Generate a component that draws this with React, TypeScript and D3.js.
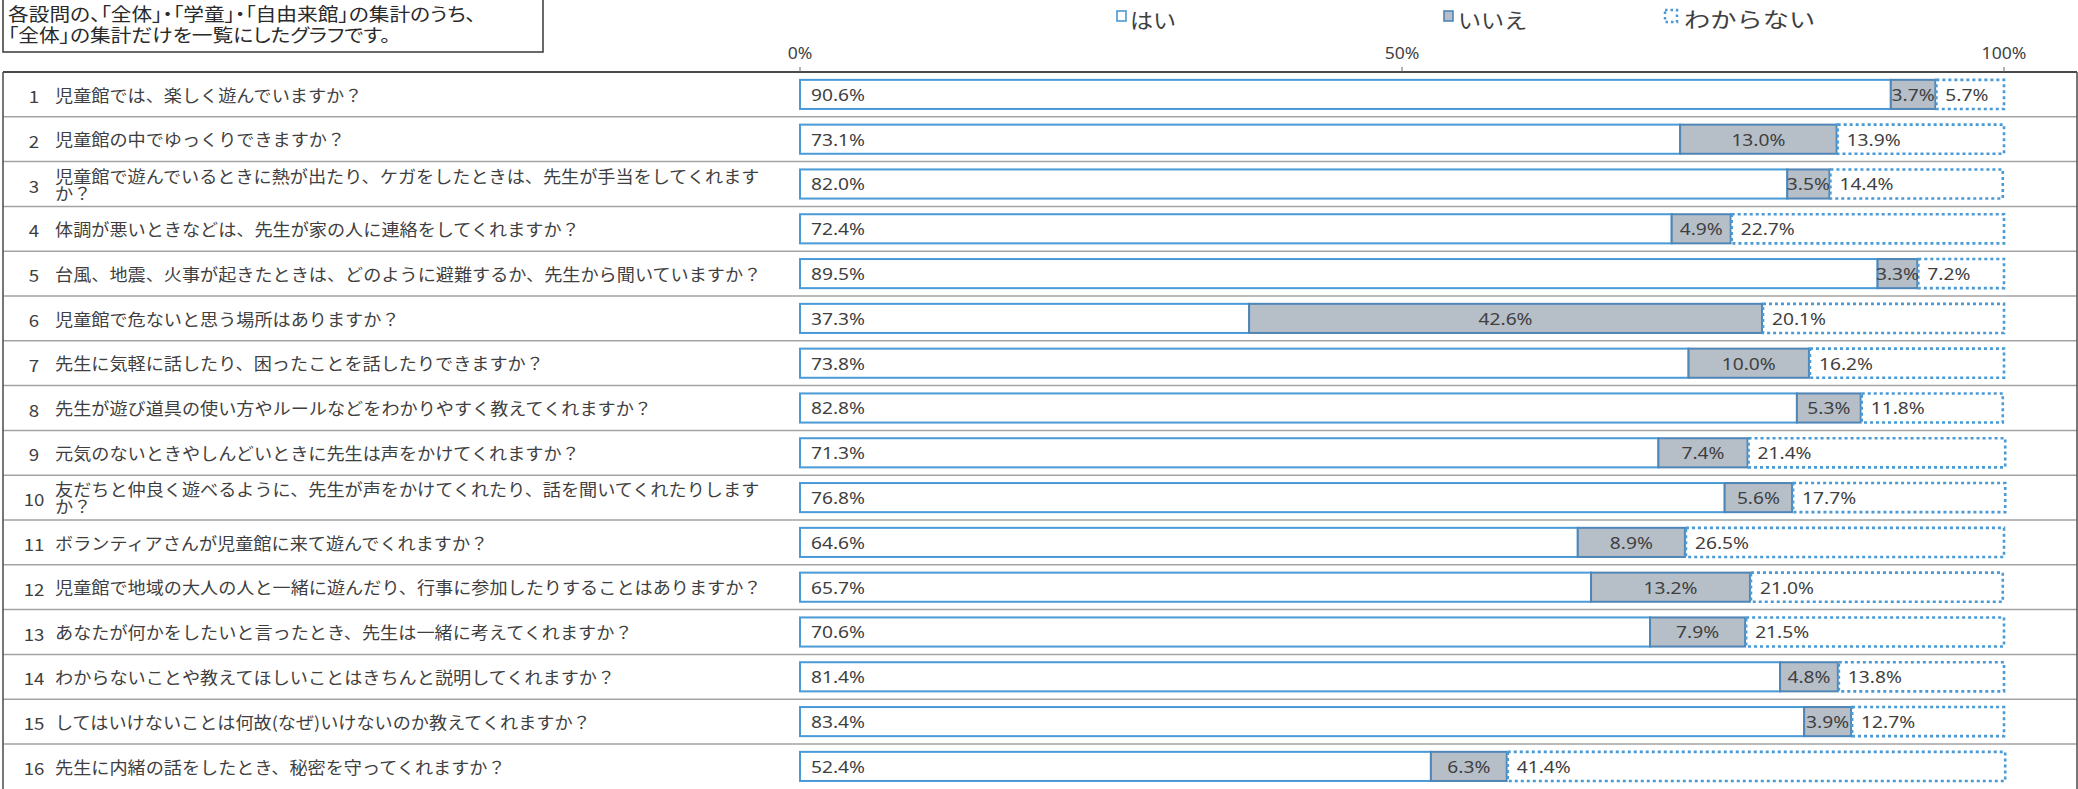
import React from 'react';
import * as d3 from 'd3';

// ---------- data ----------
const questions: string[] = [
  '児童館では、楽しく遊んでいますか？',
  '児童館の中でゆっくりできますか？',
  '児童館で遊んでいるときに熱が出たり、ケガをしたときは、先生が手当をしてくれますか？',
  '体調が悪いときなどは、先生が家の人に連絡をしてくれますか？',
  '台風、地震、火事が起きたときは、どのように避難するか、先生から聞いていますか？',
  '児童館で危ないと思う場所はありますか？',
  '先生に気軽に話したり、困ったことを話したりできますか？',
  '先生が遊び道具の使い方やルールなどをわかりやすく教えてくれますか？',
  '元気のないときやしんどいときに先生は声をかけてくれますか？',
  '友だちと仲良く遊べるように、先生が声をかけてくれたり、話を聞いてくれたりしますか？',
  'ボランティアさんが児童館に来て遊んでくれますか？',
  '児童館で地域の大人の人と一緒に遊んだり、行事に参加したりすることはありますか？',
  'あなたが何かをしたいと言ったとき、先生は一緒に考えてくれますか？',
  'わからないことや教えてほしいことはきちんと説明してくれますか？',
  'してはいけないことは何故(なぜ)いけないのか教えてくれますか？',
  '先生に内緒の話をしたとき、秘密を守ってくれますか？',
];
const yesValues: number[] = [90.6, 73.1, 82.0, 72.4, 89.5, 37.3, 73.8, 82.8, 71.3, 76.8, 64.6, 65.7, 70.6, 81.4, 83.4, 52.4];
const noValues: number[] = [3.7, 13.0, 3.5, 4.9, 3.3, 42.6, 10.0, 5.3, 7.4, 5.6, 8.9, 13.2, 7.9, 4.8, 3.9, 6.3];
const unknownValues: number[] = [5.7, 13.9, 14.4, 22.7, 7.2, 20.1, 16.2, 11.8, 21.4, 17.7, 26.5, 21.0, 21.5, 13.8, 12.7, 41.4];
const axisTicks: number[] = [0, 50, 100];
const legendLabels: string[] = ['はい', 'いいえ', 'わからない'];
const titleLines: string[] = [
  '各設問の、「全体」・「学童」・「自由来館」の集計のうち、',
  '「全体」の集計だけを一覧にしたグラフです。',
];

// ---------- layout ----------
const W = 2078;
const H = 789;
const JP = '"Noto Sans CJK JP", "Noto Sans", sans-serif';
const LAT = '"Noto Sans", "Liberation Sans", sans-serif';
const TEXT = '#3f3f3f';
const BLUE = '#4a9ad6';
const GRAY_FILL = '#b6bec8';
const GRAY_STROKE = '#4f86b6';
const TABLE_TOP = 72;
const ROW_H = 44.8;
const TABLE_LEFT = 3;
const TABLE_RIGHT = 2077;
const MAX_CHARS = 39;

const fmt = (v: number) => v.toFixed(1) + '%';

function wrap(s: string): string[] {
  const chars = Array.from(s);
  if (chars.length <= MAX_CHARS) return [s];
  return [chars.slice(0, MAX_CHARS).join(''), chars.slice(MAX_CHARS).join('')];
}

type STProps = {
  x: number; y: number; sx?: number; anchor?: 'start' | 'middle' | 'end';
  size: number; family: string; fill?: string; palt?: boolean;
  children: React.ReactNode;
};
function SText({ x, y, sx = 1, anchor = 'start', size, family, fill = TEXT, palt, children }: STProps) {
  return (
    <text
      transform={`translate(${x},${y}) scale(${sx},1)`}
      textAnchor={anchor}
      dominantBaseline="central"
      fontSize={size}
      fontFamily={family}
      fill={fill}
      style={palt ? { fontFeatureSettings: '"palt"' } : undefined}
    >
      {children}
    </text>
  );
}

export default function App() {
  const x = d3.scaleLinear().domain([0, 100]).range([800, 2004]);
  const ids = questions.map((_, i) => String(i + 1));
  const y = d3
    .scaleBand<string>()
    .domain(ids)
    .range([TABLE_TOP, TABLE_TOP + ROW_H * questions.length])
    .paddingInner(0.35)
    .paddingOuter(0.175);
  const bh = y.bandwidth();

  const legendIconX = [1117, 1444, 1665];
  const legendTextX = [1130, 1458, 1684];
  const legendSx = [1.1, 1.1, 1.25];

  return (
    <svg
      width={W}
      height={H}
      style={{ position: 'absolute', left: 0, top: 0, background: '#fff' }}
    >
      <rect x={0} y={0} width={W} height={H} fill="#fff" />

      {/* title box */}
      <rect x={3} y={-2} width={540} height={54} fill="#fff" stroke="#444" strokeWidth={1.6} />
      {titleLines.map((t, i) => (
        <SText key={i} x={8} y={13 + i * 21} size={18.5} sx={1.12} family={JP} fill="#2a2a2a" palt>
          {t}
        </SText>
      ))}

      {/* legend */}
      <rect x={legendIconX[0]} y={11} width={9} height={10} fill="#fff" stroke={BLUE} strokeWidth={1.6} />
      <rect x={legendIconX[1]} y={11} width={9} height={10} fill={GRAY_FILL} stroke={GRAY_STROKE} strokeWidth={1.6} />
      <rect x={legendIconX[2]} y={10} width={12} height={12} fill="#fff" stroke={BLUE} strokeWidth={2.5} strokeDasharray="2.5 3" />
      {legendLabels.map((l, i) => (
        <SText key={l} x={legendTextX[i]} y={18} size={21} sx={legendSx[i]} family={JP}>
          {l}
        </SText>
      ))}

      {/* axis labels */}
      {axisTicks.map((t) => (
        <SText key={t} x={x(t)} y={53} size={16} sx={1.1} anchor="middle" family={LAT}>
          {t + '%'}
        </SText>
      ))}

      {/* row separators */}
      {ids.map((id, i) =>
        i === 0 ? null : (
          <line
            key={id}
            x1={TABLE_LEFT}
            x2={TABLE_RIGHT}
            y1={TABLE_TOP + i * ROW_H}
            y2={TABLE_TOP + i * ROW_H}
            stroke="#a3a3a3"
            strokeWidth={1.5}
          />
        )
      )}

      {/* table frame */}
      <line x1={TABLE_LEFT} x2={TABLE_LEFT} y1={TABLE_TOP} y2={H + 2} stroke="#555" strokeWidth={1.6} />
      <line x1={TABLE_RIGHT} x2={TABLE_RIGHT} y1={TABLE_TOP} y2={H + 2} stroke="#555" strokeWidth={1.6} />
      <line x1={TABLE_LEFT} x2={TABLE_RIGHT} y1={TABLE_TOP} y2={TABLE_TOP} stroke="#4a4a4a" strokeWidth={2.2} />
      {axisTicks.map((t) => (
        <line key={t} x1={x(t)} x2={x(t)} y1={TABLE_TOP - 5} y2={TABLE_TOP} stroke="#666" strokeWidth={1} />
      ))}

      {/* rows */}
      {ids.map((id, i) => {
        const top = y(id)!;
        const cy = top + bh / 2;
        const rowCy = TABLE_TOP + i * ROW_H + ROW_H / 2;
        const lines = wrap(questions[i]);
        const a = yesValues[i];
        const b = noValues[i];
        const c = unknownValues[i];
        const x0 = x(0);
        const x1 = x(a);
        const x2 = x(a + b);
        const x3 = x(a + b + c);
        return (
          <g key={id}>
            <SText x={34} y={rowCy + 1} size={17} sx={1.1} anchor="middle" family={JP}>
              {id}
            </SText>
            {lines.map((ln, k) => (
              <SText
                key={k}
                x={55}
                y={rowCy + (lines.length === 1 ? 0 : k === 0 ? -8.5 : 8.5)}
                size={16.5}
                sx={1.1}
                family={JP}
              >
                {ln}
              </SText>
            ))}
            <rect x={x0} y={top} width={x1 - x0} height={bh} fill="#fff" stroke={BLUE} strokeWidth={2} />
            <rect x={x1} y={top} width={x2 - x1} height={bh} fill={GRAY_FILL} stroke={GRAY_STROKE} strokeWidth={2} />
            <rect
              x={x2 + 1}
              y={top}
              width={x3 - x2 - 1}
              height={bh}
              fill="#fff"
              stroke={BLUE}
              strokeWidth={2.6}
              strokeDasharray="3 3"
            />
            <SText x={x0 + 11} y={cy} size={16} sx={1.2} family={LAT}>
              {fmt(a)}
            </SText>
            <SText x={(x1 + x2) / 2} y={cy} size={16} sx={1.2} anchor="middle" family={LAT}>
              {fmt(b)}
            </SText>
            <SText x={x2 + 10} y={cy} size={16} sx={1.2} family={LAT}>
              {fmt(c)}
            </SText>
          </g>
        );
      })}
    </svg>
  );
}
